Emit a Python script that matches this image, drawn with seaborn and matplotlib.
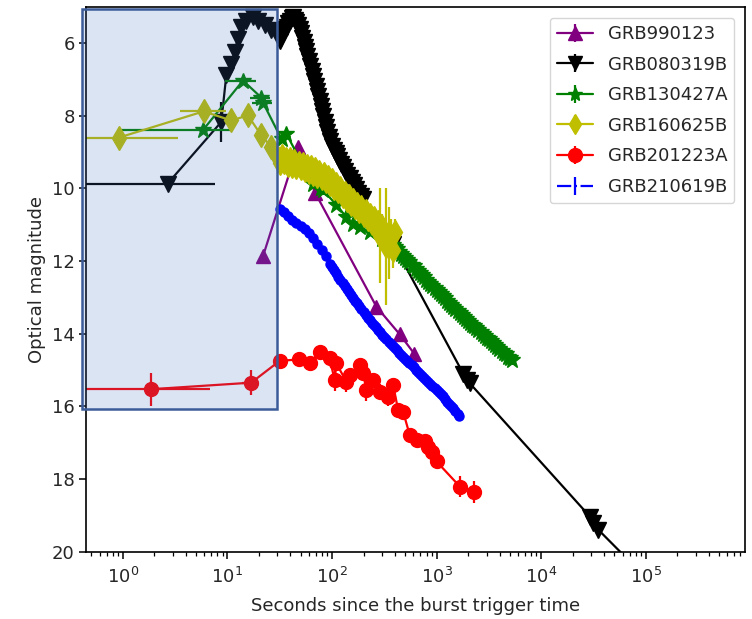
import numpy as np
import matplotlib
matplotlib.use("Agg")
import matplotlib.pyplot as plt
import seaborn as sns
from matplotlib.patches import Rectangle

# ---------------- data ----------------
names = ["GRB990123", "GRB080319B", "GRB130427A", "GRB160625B", "GRB201223A", "GRB210619B"]
colors = ["#800080", "#000000", "#008000", "#bfbf00", "#ff0000", "#0000ff"]
markers = ["^", "v", "*", "d", "o", "."]

# GRB990123
t_990123 = [22, 47, 69, 266, 444, 610]
m_990123 = [11.85, 8.86, 10.12, 13.26, 14.02, 14.55]
ye_990123 = [0.05, 0.05, 0.05, 0.06, 0.08, 0.08]

# GRB080319B
t_080319B = [2.68, 8.74, 9.76, 10.9, 11.7, 12.6, 13.6, 15.2, 17.5, 19.6, 22.7, 26.3, 30.4,
             31.5, 32.8, 34.0, 35.3, 36.8, 38.0, 39.4, 41.0, 42.4, 44.0, 45.6, 47.3, 49.0,
             50.5, 52.0, 53.5, 55.0, 56.5, 58.0, 60.0, 62.0, 64.0, 66.0, 68.0, 70.0, 72.0,
             74.0, 76.0, 78.0, 80.0, 82.5, 85.0, 87.5, 90.0, 93.0, 96.0, 100, 104, 108, 112,
             117, 122, 128, 134, 140, 147, 154, 161, 169, 178, 188, 198,
             384, 1795, 1932, 2080, 29240, 31500, 35100, 120000]
m_080319B = [9.87, 8.17, 6.89, 6.57, 6.25, 5.88, 5.56, 5.38, 5.28, 5.38, 5.51, 5.65, 5.74,
             5.95, 5.85, 5.70, 5.62, 5.55, 5.45, 5.40, 5.32, 5.28, 5.35, 5.42, 5.50, 5.60,
             5.72, 5.85, 5.97, 6.10, 6.22, 6.35, 6.48, 6.62, 6.76, 6.90, 7.04, 7.18, 7.32,
             7.46, 7.60, 7.74, 7.88, 8.02, 8.16, 8.30, 8.44, 8.58, 8.70, 8.82, 8.93, 9.03, 9.12,
             9.22, 9.32, 9.42, 9.52, 9.62, 9.72, 9.82, 9.92, 10.02, 10.12, 10.22, 10.30,
             11.52, 15.10, 15.28, 15.37, 19.04, 19.22, 19.40, 20.95]
ye_080319B = [0.05, 0.55] + [0.05] * 71
xe_lo_080319B = [2.4] + [0] * 72
xe_hi_080319B = [4.9] + [0] * 72

# GRB130427A
t_130427A = [5.82, 14.1, 21.1, 22.0, 33.0, 36.6, 65.8, 79, 82, 110, 137, 159, 184, 230, 300,
             380, 398, 417, 437, 457, 479, 501, 525, 550, 575, 603, 631, 661, 692, 724, 759,
             794, 832, 871, 912, 955, 1000, 1047, 1096, 1148, 1202, 1259, 1318, 1380, 1445,
             1514, 1585, 1660, 1738, 1820, 1905, 1995, 2089, 2188, 2291, 2399, 2512, 2630,
             2754, 2884, 3020, 3162, 3311, 3467, 3631, 3802, 3981, 4169, 4365, 4571, 4786,
             5012, 5248]
m_130427A = [8.40, 7.03, 7.50, 7.65, 8.65, 8.50, 9.87, 10.00, 10.05, 10.45, 10.79, 10.97, 11.06,
             11.20, 11.40,
             11.56, 11.62, 11.68, 11.74, 11.80, 11.86, 11.92, 11.98, 12.04, 12.10, 12.15, 12.21,
             12.27, 12.33, 12.39, 12.45, 12.51, 12.57, 12.63, 12.69, 12.74, 12.80, 12.86, 12.92,
             12.97, 13.03, 13.09, 13.15, 13.20, 13.26, 13.32, 13.38, 13.43, 13.49, 13.55, 13.60,
             13.65, 13.70, 13.75, 13.80, 13.85, 13.91, 13.96, 14.01, 14.06, 14.11, 14.16, 14.21,
             14.26, 14.32, 14.37, 14.42, 14.47, 14.52, 14.57, 14.63, 14.68, 14.73]
ye_130427A = [0.08] * 6 + [0.12] * 67
xe_130427A = [4.9, 4.7, 4.7, 4.7] + [0] * 69

# GRB160625B
t_160625B = [0.92, 5.92, 10.9, 15.7, 21.1, 26.3, 30.2, 31.6, 33.1, 34.7, 36.3, 38.0, 39.8, 41.7, 43.7,
             45.7, 47.9, 50.1, 52.5, 55.0, 57.5, 60.3, 63.1, 66.1, 69.2, 72.4, 75.9, 79.4, 83.2, 87.1,
             91.2, 95.5, 100, 105, 110, 115, 120, 126, 132, 138, 145, 151, 158, 166, 174, 182, 191,
             200, 209, 219, 229, 240, 251, 263, 275, 288, 302, 316, 331, 347, 363, 380, 398]
m_160625B = [8.60, 7.88, 8.13, 7.99, 8.54, 8.86, 9.15, 9.30, 9.10, 9.28, 9.18, 9.35, 9.20, 9.38, 9.25,
             9.42, 9.30, 9.45, 9.32, 9.50, 9.38, 9.55, 9.42, 9.60, 9.48, 9.66, 9.55, 9.72, 9.60, 9.80,
             9.68, 9.88, 9.78, 9.98, 9.88, 10.08, 10.00, 10.20, 10.12, 10.32, 10.22, 10.42, 10.32, 10.52,
             10.42, 10.62, 10.52, 10.72, 10.62, 10.85, 10.72, 10.95, 10.82, 11.05, 10.92, 11.30, 11.05,
             11.35, 11.60, 11.50, 11.30, 11.70, 11.20]
ye_160625B = [0.05] * 6 + [0.25] * 49 + [1.3, 0.35, 0.35, 1.6, 1.0, 0.45, 0.5, 0.35]
xe_lo_160625B = [0.6, 2.43] + [0] * 61
xe_hi_160625B = [2.44, 3.84] + [0] * 61

# GRB201223A
t_201223A = [1.87, 16.9, 31.6, 48.3, 61.2, 76.2, 95, 106, 110, 137, 148, 184, 198, 213, 247,
             286, 343, 384, 428, 478, 553, 642, 771, 830, 893, 997, 1667, 2270]
m_201223A = [15.53, 15.35, 14.75, 14.71, 14.82, 14.50, 14.68, 15.28, 14.82, 15.32, 15.14, 14.86,
             15.09, 15.55, 15.28, 15.60, 15.74, 15.41, 16.10, 16.15, 16.79, 16.93, 16.97, 17.11,
             17.25, 17.52, 18.21, 18.35]
ye_201223A = [0.45, 0.35, 0.1, 0.1, 0.12, 0.15, 0.15, 0.3, 0.15, 0.3, 0.2, 0.15, 0.2, 0.3,
              0.2, 0.2, 0.25, 0.2, 0.15, 0.15, 0.12, 0.12, 0.12, 0.15, 0.15, 0.15, 0.3, 0.3]
xe_lo_201223A = [1.6, 3.0] + [0] * 26
xe_hi_201223A = [4.9, 3.0] + [0] * 26

# GRB210619B
t_210619B = [31.6, 34.7, 38.0, 41.7, 45.7, 50.1, 55.0, 60.3, 66.1, 72.4, 79.4, 87.1, 95.5,
             100, 105, 110, 115, 120, 126, 132, 138, 145, 151, 158, 166, 174, 182, 191, 200,
             209, 219, 229, 240, 251, 263, 275, 288, 302, 316, 331, 347, 363, 380, 398, 417,
             437, 457, 479, 501, 525, 550, 575, 603, 631, 661, 692, 724, 759, 794, 832, 871,
             912, 955, 1000, 1047, 1096, 1148, 1202, 1259, 1318, 1380, 1445, 1514, 1585, 1641]
m_210619B = [10.58, 10.66, 10.76, 10.86, 10.95, 11.04, 11.12, 11.24, 11.38, 11.54, 11.70, 11.87,
             12.07, 12.16, 12.25, 12.34, 12.43, 12.51, 12.60, 12.68, 12.77, 12.85, 12.93, 13.01,
             13.10, 13.17, 13.25, 13.32, 13.40, 13.48, 13.56, 13.63, 13.70, 13.76, 13.83, 13.89,
             13.96, 14.03, 14.10, 14.16, 14.23, 14.29, 14.35, 14.40, 14.46, 14.52, 14.58, 14.64,
             14.70, 14.76, 14.82, 14.87, 14.93, 14.99, 15.05, 15.10, 15.16, 15.21, 15.27, 15.32,
             15.38, 15.44, 15.50, 15.55, 15.61, 15.67, 15.73, 15.80, 15.87, 15.93, 15.99, 16.05,
             16.12, 16.20, 16.28]
ye_210619B = [0.05] * 75

xticks_vals = [1, 10, 100, 1000, 10000, 100000]
yticks_vals = [6, 8, 10, 12, 14, 16, 18, 20]

# ---------------- plotting ----------------
sns.set_theme(style="ticks", color_codes=False)
plt.rcParams['font.family'] = ['DejaVu Sans']
plt.rcParams['axes.edgecolor'] = 'black'

fig = plt.figure(figsize=(7.52, 6.19), dpi=100)
ax = fig.add_axes([0.115, 0.109, 0.876, 0.880])
ax.set_xscale('log')

series = [
    (t_990123, m_990123, ye_990123, None, 10),
    (t_080319B, m_080319B, ye_080319B, [xe_lo_080319B, xe_hi_080319B], 11),
    (t_130427A, m_130427A, ye_130427A, [xe_130427A, xe_130427A], 12),
    (t_160625B, m_160625B, ye_160625B, [xe_lo_160625B, xe_hi_160625B], 12),
    (t_201223A, m_201223A, ye_201223A, [xe_lo_201223A, xe_hi_201223A], 10),
    (t_210619B, m_210619B, ye_210619B, None, 13),
]

handles = []
for (t, m, ye, xe, ms), name, c, mk in zip(series, names, colors, markers):
    sns.lineplot(x=t, y=m, ax=ax, color=c, marker=mk, markersize=ms, linewidth=1.6,
                 markeredgecolor=c, markeredgewidth=1.0, sort=False, estimator=None,
                 legend=False)
    ax.errorbar(t, m, yerr=ye, xerr=xe, fmt='none', ecolor=c, elinewidth=1.6, capsize=0)
    h = ax.errorbar([np.nan], [np.nan], yerr=[0.1], fmt='-' + mk, color=c,
                    ms=(min(ms, 10) if mk != '.' else 10), mec=c, lw=1.6, elinewidth=1.6,
                    label=name)
    handles.append(h)

# highlighted early-time region
rect = Rectangle((0.41, 5.05), 29.8 - 0.41, 16.08 - 5.05,
                 facecolor=(0.267, 0.447, 0.769, 0.19), edgecolor="#3b5c99",
                 linewidth=1.8, zorder=6, clip_on=False)
ax.add_patch(rect)

ax.set_xlim(0.45, 8.9e5)
ax.set_ylim(20, 5.0)
ax.set_xticks(xticks_vals)
ax.set_yticks(yticks_vals)
ax.set_xlabel("Seconds since the burst trigger time", fontsize=13, labelpad=7)
ax.set_ylabel("Optical magnitude", fontsize=13)
ax.tick_params(axis='both', which='major', labelsize=13, length=5, width=1.1,
               color='black', direction='out')
ax.tick_params(axis='x', which='major', pad=6)
ax.tick_params(axis='x', which='minor', length=3, width=0.9, color='black')
for s in ax.spines.values():
    s.set_linewidth(1.2)
    s.set_color('black')

leg = ax.legend(handles=handles, labels=names, loc='upper right', fontsize=13,
                frameon=True, borderaxespad=0.6, labelspacing=0.7)
leg.get_frame().set_edgecolor('#cccccc')

fig.savefig("out.png", dpi=100)
